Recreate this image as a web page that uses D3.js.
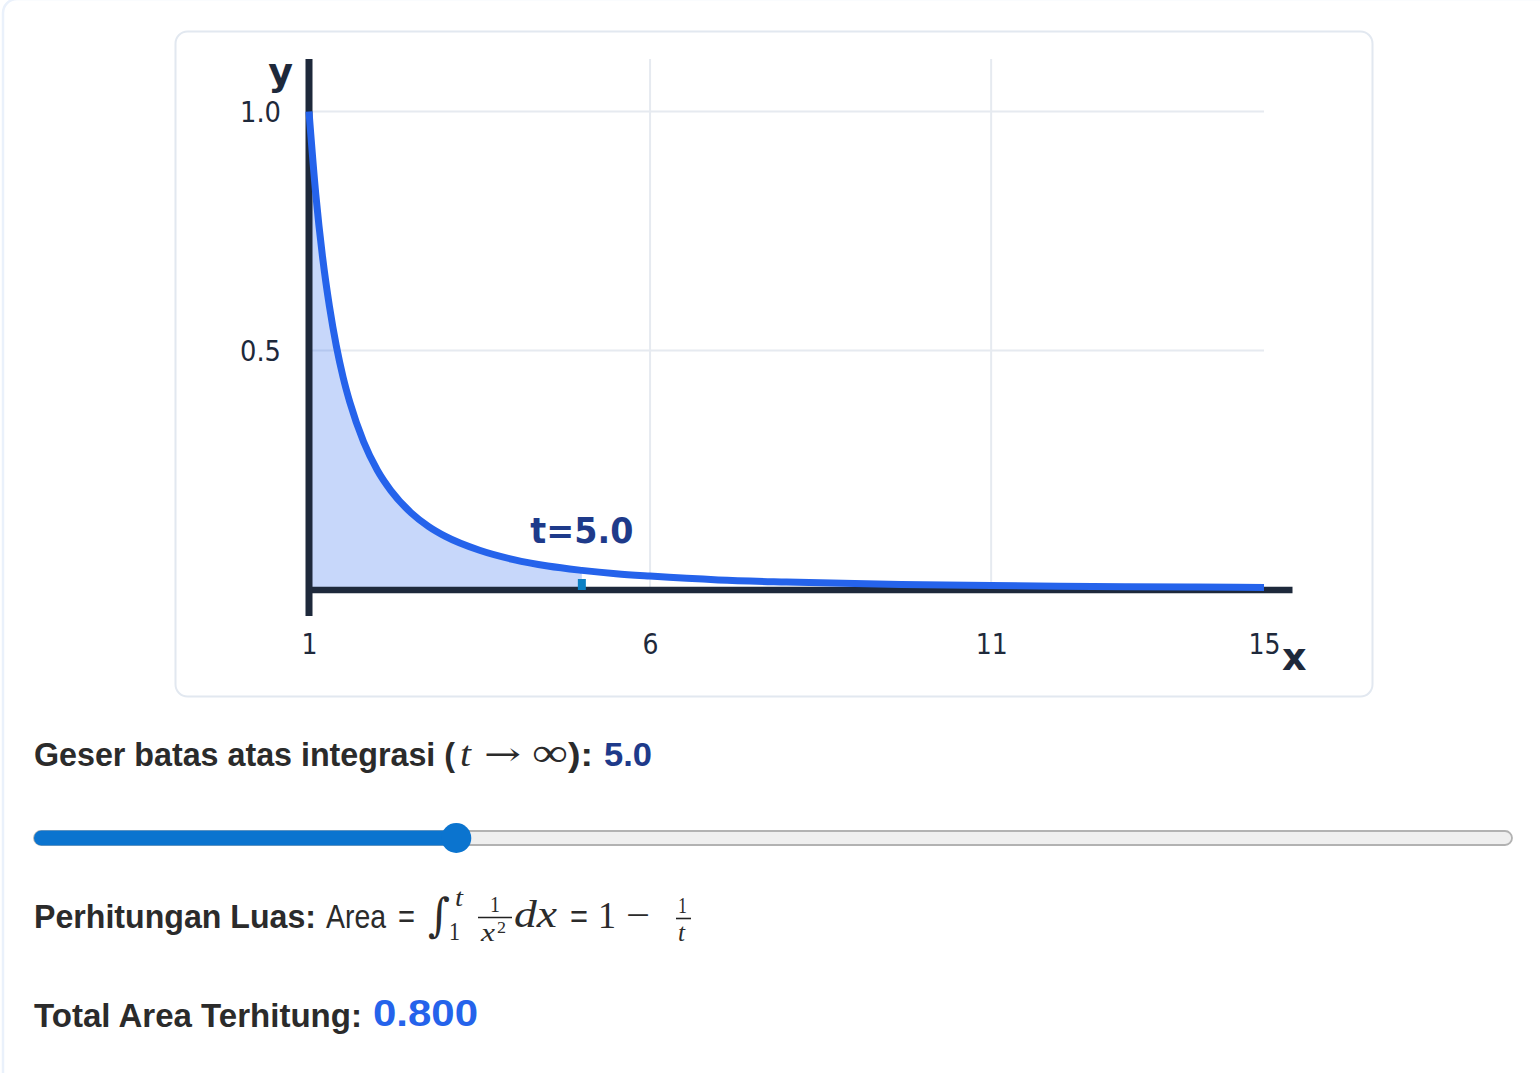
<!DOCTYPE html>
<html>
<head>
<meta charset="utf-8">
<script src="https://cdn.jsdelivr.net/npm/d3@7"></script>
<style>
  html, body { margin: 0; padding: 0; background: #ffffff; }
  svg { display: block; }
</style>
</head>
<body>
<svg id="page" width="1540" height="1073"></svg>
<script>
// ---------- data ----------
const xTicks = [1, 6, 11, 15];
const yTicks = [0.5, 1.0];
const curveX = [1, 1.1, 1.2, 1.3, 1.4, 1.5, 1.6, 1.8, 2, 2.2, 2.5, 2.75, 3, 3.5, 4, 4.5, 5, 5.5, 6, 7, 8, 9, 10, 11, 12, 13, 14, 15];
const curveY = [1, 0.826, 0.694, 0.592, 0.510, 0.444, 0.391, 0.309, 0.25, 0.207, 0.16, 0.132, 0.111, 0.082, 0.0625, 0.049, 0.04, 0.033, 0.028, 0.020, 0.0156, 0.0123, 0.01, 0.0083, 0.0069, 0.0059, 0.0051, 0.0044];
const tValue = 5.0;
const sliderDomain = [1, 15];
const areaValue = 0.800;

const svg = d3.select("#page");

// outer container border (left edge visible)
svg.append("rect").attr("x", 3).attr("y", -1).attr("width", 1600).attr("height", 1200)
  .attr("rx", 14).attr("fill", "#ffffff").attr("stroke", "#eaf1fb").attr("stroke-width", 2.5);

// chart card
svg.append("rect").attr("x", 175.5).attr("y", 31.5).attr("width", 1197).attr("height", 665)
  .attr("rx", 12).attr("fill", "#ffffff").attr("stroke", "#e2e8f0").attr("stroke-width", 2);

const x = d3.scaleLinear().domain([1, 15]).range([309, 1264]);
const y = d3.scaleLinear().domain([0, 1]).range([589.5, 111.5]);

const pts = curveX.map((d, i) => ({ x: d, y: curveY[i] }));

// grid
const grid = svg.append("g").attr("stroke", "#e6eaf0").attr("stroke-width", 2);
grid.selectAll("line.h").data(yTicks).enter().append("line")
  .attr("x1", x(1)).attr("x2", x(15)).attr("y1", d => y(d)).attr("y2", d => y(d));
grid.selectAll("line.v").data(xTicks.filter(d => d > 1 && d < 15)).enter().append("line")
  .attr("x1", d => x(d)).attr("x2", d => x(d)).attr("y1", 59).attr("y2", y(0));

// shaded area up to t
const areaGen = d3.area().x(d => x(d.x)).y0(y(0)).y1(d => y(d.y)).curve(d3.curveMonotoneX);
svg.append("path").datum(pts.filter(d => d.x <= tValue))
  .attr("d", areaGen).attr("fill", "#2563eb").attr("fill-opacity", 0.26);

// axes lines
svg.append("line").attr("x1", 306).attr("x2", 1292.5).attr("y1", 590).attr("y2", 590)
  .attr("stroke", "#1e293b").attr("stroke-width", 6.5);
svg.append("line").attr("x1", 309).attr("x2", 309).attr("y1", 59).attr("y2", 616)
  .attr("stroke", "#1e293b").attr("stroke-width", 7);

// curve
const lineGen = d3.line().x(d => x(d.x)).y(d => y(d.y)).curve(d3.curveMonotoneX);
svg.append("path").datum(pts).attr("d", lineGen)
  .attr("fill", "none").attr("stroke", "#2563eb").attr("stroke-width", 7);

// t marker
svg.append("rect").attr("x", x(tValue) - 4).attr("y", 579).attr("width", 8).attr("height", 11)
  .attr("fill", "#0a80c4");

// t label
svg.append("text").attr("x", x(tValue)).attr("y", 543).attr("text-anchor", "middle")
  .attr("font-family", "DejaVu Sans, Verdana, sans-serif").attr("font-weight", "bold")
  .attr("font-size", 35).attr("fill", "#1e3a8a")
  .attr("textLength", 103).attr("lengthAdjust", "spacingAndGlyphs")
  .text("t=" + tValue.toFixed(1));

// axes ticks via d3 axis
const tickFont = "DejaVu Sans, Verdana, sans-serif";
const xAxis = d3.axisBottom(x).tickValues(xTicks).tickSize(0).tickPadding(44).tickFormat(d3.format("d"));
const gx = svg.append("g").attr("transform", `translate(0,${y(0)})`).call(xAxis);
gx.select(".domain").remove();
gx.selectAll("text").attr("font-family", tickFont).attr("font-size", 29).attr("fill", "#1e293b");
gx.selectAll(".tick").each(function(d){
  const t = d3.select(this).select("text");
  t.attr("textLength", String(d).length * 16).attr("lengthAdjust", "spacingAndGlyphs");
});

const yAxis = d3.axisLeft(y).tickValues(yTicks).tickSize(0).tickPadding(28).tickFormat(d3.format(".1f"));
const gy = svg.append("g").attr("transform", `translate(${x(1)},0)`).call(yAxis);
gy.select(".domain").remove();
gy.selectAll("text").attr("font-family", tickFont).attr("font-size", 29).attr("fill", "#1e293b")
  .attr("textLength", 41).attr("lengthAdjust", "spacingAndGlyphs").attr("dy", "0.35em");

// axis titles
svg.append("text").attr("x", 293).attr("y", 85).attr("text-anchor", "end")
  .attr("font-family", tickFont).attr("font-weight", "bold").attr("font-size", 38).attr("fill", "#1e293b")
  .text("y");
svg.append("text").attr("x", 1282).attr("y", 670)
  .attr("font-family", tickFont).attr("font-weight", "bold").attr("font-size", 38).attr("fill", "#1e293b")
  .text("x");

// ---------- controls text ----------
const sansB = "'Liberation Sans Narrow', 'Liberation Sans', Arial, sans-serif";
const serif = "'Liberation Serif', 'DejaVu Serif', serif";
const textCol = "#2b2b2b";

function line(yy, pieces) {
  const t = svg.append("text").attr("x", pieces[0].x).attr("y", yy).attr("fill", textCol);
  pieces.forEach(p => {
    const s = t.append("tspan").attr("x", p.x).attr("y", p.y != null ? p.y : yy).text(p.s)
      .attr("font-family", p.family || sansB)
      .attr("font-size", p.size || 34)
      .attr("font-weight", p.weight || "normal")
      .attr("font-style", p.style || "normal");
    if (p.fill) s.attr("fill", p.fill);
    if (p.len) s.attr("textLength", p.len).attr("lengthAdjust", "spacingAndGlyphs");
  });
  return t;
}

// line 1
line(766, [
  { s: "Geser batas atas integrasi (", x: 34, weight: "bold", size: 32.5, len: 421 },
  { s: "t", x: 460, family: serif, style: "italic", size: 36, len: 11 },
  { s: "→", x: 484, y: 765, family: "'DejaVu Serif', serif", size: 32, len: 37 },
  { s: "∞", x: 532, family: serif, size: 40, len: 36 },
  { s: "):", x: 568, weight: "bold", len: 25 },
  { s: tValue.toFixed(1), x: 604, weight: "bold", len: 48, fill: "#1e3a8a" }
]);

// slider
const sx = d3.scaleLinear().domain(sliderDomain).range([34, 1512]);
svg.append("rect").attr("x", sx(sliderDomain[0])).attr("y", 831).attr("width", sx(sliderDomain[1]) - sx(sliderDomain[0]))
  .attr("height", 14).attr("rx", 7).attr("fill", "#efefef").attr("stroke", "#b2b2b2").attr("stroke-width", 1.8);
svg.append("rect").attr("x", sx(sliderDomain[0])).attr("y", 830.5).attr("width", sx(tValue) - sx(sliderDomain[0]))
  .attr("height", 15).attr("rx", 7.5).attr("fill", "#0b74cf");
svg.append("circle").attr("cx", sx(tValue)).attr("cy", 838).attr("r", 15).attr("fill", "#0b74cf");

// line 2 (formula)
line(928, [
  { s: "Perhitungan Luas:", x: 34, weight: "bold", len: 282 },
  { s: "Area", x: 326, len: 60 },
  { s: "=", x: 398, len: 17 },
  { s: "∫", x: 428, y: 931, family: "'DejaVu Serif', serif", style: "italic", size: 46, len: 22 },
  { s: "t", x: 455, y: 906, family: serif, style: "italic", size: 26, len: 8 },
  { s: "1", x: 449, y: 940, family: serif, size: 26, len: 11 },
  { s: "1", x: 490, y: 912, family: serif, size: 24, len: 10 },
  { s: "x", x: 481, y: 941, family: serif, style: "italic", size: 26, len: 14 },
  { s: "2", x: 497, y: 933, family: serif, size: 16, len: 9 },
  { s: "dx", x: 514, y: 927, family: serif, style: "italic", size: 38, len: 43 },
  { s: "=", x: 570, len: 18 },
  { s: "1", x: 598, family: serif, size: 38, len: 18 },
  { s: "−", x: 626, family: serif, size: 38, len: 24 },
  { s: "1", x: 678, y: 913, family: serif, size: 24, len: 9 },
  { s: "t", x: 678, y: 941, family: serif, style: "italic", size: 26, len: 7 }
]);
svg.append("line").attr("x1", 478).attr("x2", 512).attr("y1", 917.5).attr("y2", 917.5).attr("stroke", "#222").attr("stroke-width", 1.6);
svg.append("line").attr("x1", 676).attr("x2", 691).attr("y1", 918.5).attr("y2", 918.5).attr("stroke", "#222").attr("stroke-width", 1.6);

// line 3
line(1027, [
  { s: "Total Area Terhitung:", x: 34, weight: "bold", size: 33, len: 328 },
  { s: areaValue.toFixed(3), x: 373, y: 1026, weight: "bold", size: 37, len: 105, fill: "#2563eb" }
]);
</script>
</body>
</html>
